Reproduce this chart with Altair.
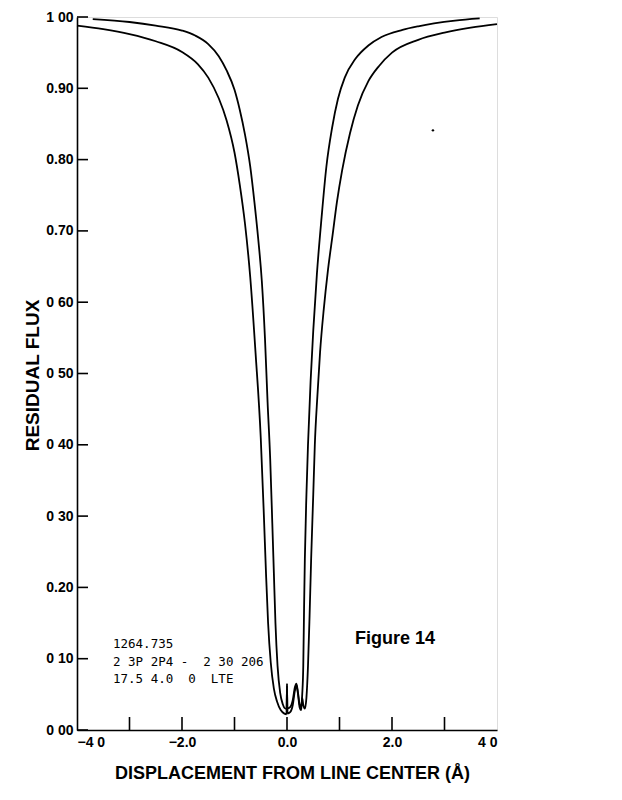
import altair as alt
import pandas as pd

# ---- data ----
outer_x = [-4.0, -3.5, -3.0, -2.5, -2.0, -1.7, -1.5, -1.3, -1.15, -1.0, -0.9, -0.8, -0.7, -0.6,
           -0.5, -0.44, -0.40, -0.36, -0.31, -0.25, -0.19, -0.12, -0.05, -0.01, 0.0, 0.01, 0.06,
           0.11, 0.15, 0.18, 0.21, 0.24, 0.27, 0.29, 0.31, 0.34, 0.37, 0.40, 0.43, 0.46, 0.50,
           0.53, 0.58, 0.63, 0.70, 0.78, 0.87, 0.95, 1.05, 1.2, 1.35, 1.55, 1.75, 2.0, 2.5, 3.0, 3.5, 4.0]
outer_y = [0.988, 0.983, 0.976, 0.966, 0.951, 0.934, 0.915, 0.886, 0.855, 0.81, 0.765, 0.71, 0.635, 0.53,
           0.41, 0.30, 0.22, 0.15, 0.095, 0.058, 0.04, 0.028, 0.023, 0.022, 0.062, 0.023, 0.025,
           0.035, 0.055, 0.063, 0.05, 0.032, 0.028, 0.045, 0.035, 0.03, 0.045, 0.09, 0.16, 0.24, 0.33,
           0.40, 0.47, 0.53, 0.59, 0.645, 0.695, 0.74, 0.785, 0.837, 0.876, 0.91, 0.931, 0.95, 0.968, 0.978, 0.985, 0.99]

inner_x = [-3.7, -3.0, -2.5, -2.0, -1.75, -1.5, -1.3, -1.15, -1.0, -0.9, -0.8, -0.7, -0.62, -0.55,
           -0.48, -0.42, -0.37, -0.32, -0.28, -0.25, -0.22, -0.18, -0.13, -0.08, -0.03, -0.005, 0.0,
           0.005, 0.06, 0.11, 0.15, 0.18, 0.21, 0.24, 0.27, 0.29, 0.31, 0.325, 0.34, 0.37, 0.40, 0.45,
           0.50, 0.57, 0.66, 0.75, 0.86, 0.97, 1.1, 1.3, 1.55, 1.8, 2.2, 2.5, 2.8, 3.2, 3.67]
inner_y = [0.997, 0.993, 0.988, 0.981, 0.974, 0.962, 0.945, 0.925, 0.898, 0.87, 0.835, 0.79, 0.74, 0.69,
           0.63, 0.55, 0.46, 0.38, 0.29, 0.22, 0.15, 0.09, 0.052, 0.036, 0.03, 0.03, 0.065,
           0.03, 0.032, 0.042, 0.06, 0.065, 0.052, 0.036, 0.033, 0.05, 0.09, 0.17, 0.24, 0.33, 0.40, 0.49,
           0.56, 0.64, 0.72, 0.79, 0.845, 0.885, 0.915, 0.941, 0.96, 0.972, 0.982, 0.987, 0.991, 0.995, 0.998]

y_ticks = [0.0, 0.1, 0.2, 0.3, 0.4, 0.5, 0.6, 0.7, 0.8, 0.9, 1.0]
y_tick_labels = ["0 00", "0 10", "0.20", "0 30", "0 40", "0 50", "0 60", "0.70", "0.80", "0.90", "1 00"]
x_ticks = [-3, -2, -1, 0, 1, 2, 3]
x_label_values = [-4, -2, 0, 2, 4]
x_tick_labels = ["\u22124 0", "\u22122.0", "0.0", "2.0", "4 0"]

NB = "\u00a0"
annotation_lines = ["1264.735", f"2 3P 2P4 -{NB}{NB}2 30 206", f"17.5 4.0{NB}{NB}0{NB}{NB}LTE"]
figure_label = "Figure 14"
speck_x = [2.78]
speck_y = [0.841]

# ---- build tables ----
rows = []
for name, xs, ys in (("outer", outer_x, outer_y), ("inner", inner_x, inner_y)):
    for i, (a, b) in enumerate(zip(xs, ys)):
        rows.append({"series": name, "i": i, "x": a, "y": b})
df = pd.DataFrame(rows)


def label_expr(values, labels):
    expr = "''"
    for v, l in reversed(list(zip(values, labels))):
        expr = f"abs(datum.value - ({v})) < 1e-6 ? '{l}' : ({expr})"
    return expr


W, H = 420, 713
xscale = alt.Scale(domain=[-4, 4], nice=False, zero=False)
yscale = alt.Scale(domain=[0, 1], nice=False, zero=False)

xaxis = alt.Axis(values=x_label_values, labelExpr=label_expr(x_label_values, x_tick_labels),
                 ticks=False, tickSize=0, grid=False, labelPadding=5,
                 labelFont="Liberation Sans", labelFontWeight="bold", labelFontSize=14, labelColor="black",
                 title="DISPLACEMENT FROM LINE CENTER (Å)", titleFont="Liberation Sans",
                 titleFontWeight="bold", titleFontSize=18, titleColor="black",
                 titleX=215, titleY=48, titleBaseline="alphabetic", titleAlign="center",
                 domainColor="black", domainWidth=1.6)
yaxis = alt.Axis(values=y_ticks, labelExpr=label_expr(y_ticks, y_tick_labels),
                 ticks=False, tickSize=0, grid=False, labelPadding=4,
                 labelFont="Liberation Sans", labelFontWeight="bold", labelFontSize=14, labelColor="black",
                 title="RESIDUAL FLUX", titleFont="Liberation Sans", titleFontWeight="bold",
                 titleFontSize=19, titleColor="black", titleX=-45, titleY=358,
                 titleAlign="center", titleBaseline="middle",
                 domainColor="black", domainWidth=1.6)

lines = alt.Chart(df).mark_line(color="black", strokeWidth=1.8, interpolate="monotone").encode(
    x=alt.X("x:Q", scale=xscale, axis=xaxis),
    y=alt.Y("y:Q", scale=yscale, axis=yaxis),
    detail="series:N",
    order="i:Q",
)

ytick_df = pd.DataFrame({"v": y_ticks})
yticks = alt.Chart(ytick_df).mark_rule(color="black", strokeWidth=1.6).encode(
    y=alt.Y("v:Q", scale=yscale), x=alt.value(0), x2=alt.value(11)
)
xtick_df = pd.DataFrame({"v": x_ticks})
xticks = alt.Chart(xtick_df).mark_rule(color="black", strokeWidth=1.6).encode(
    x=alt.X("v:Q", scale=xscale), y=alt.value(H - 13), y2=alt.value(H)
)

annot = alt.Chart(pd.DataFrame({"a": [0]})).mark_text(
    align="left", baseline="alphabetic", font="DejaVu Sans Mono", fontSize=12.5,
    lineHeight=17.5, color="black"
).encode(x=alt.value(36), y=alt.value(631), text=alt.value(annotation_lines))

fig = alt.Chart(pd.DataFrame({"a": [0]})).mark_text(
    align="left", baseline="alphabetic", font="Liberation Sans", fontWeight="bold",
    fontSize=18, color="black"
).encode(x=alt.value(278), y=alt.value(627), text=alt.value(figure_label))

speck = alt.Chart(pd.DataFrame({"x": speck_x, "y": speck_y})).mark_circle(
    color="black", size=6, opacity=1
).encode(x=alt.X("x:Q", scale=xscale), y=alt.Y("y:Q", scale=yscale))

chart = alt.layer(lines, yticks, xticks, annot, fig, speck).properties(
    width=W, height=H,
    autosize=alt.AutoSizeParams(type="none"),
    padding={"left": 69, "top": 9, "right": 117, "bottom": 70},
).configure_view(stroke="black", strokeWidth=1.6).configure(background="white")

chart.save("out.html", embed_options={"renderer": "svg", "actions": False})
